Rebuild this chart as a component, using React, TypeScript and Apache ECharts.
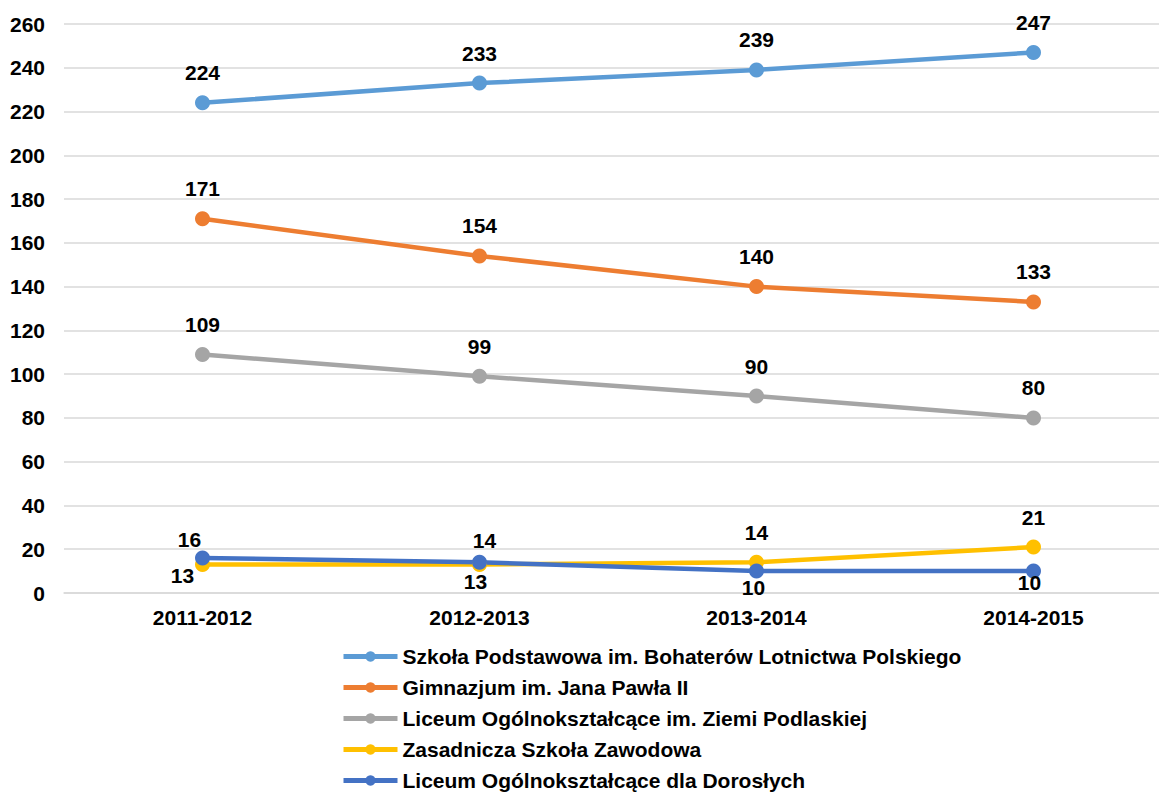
import React, { useEffect, useRef } from "react";
import * as echarts from "echarts";

const categories = ["2011-2012", "2012-2013", "2013-2014", "2014-2015"];
const seriesNames = [
  "Szkoła Podstawowa im. Bohaterów Lotnictwa Polskiego",
  "Gimnazjum im. Jana Pawła II",
  "Liceum Ogólnokształcące im. Ziemi Podlaskiej",
  "Zasadnicza Szkoła Zawodowa",
  "Liceum Ogólnokształcące dla Dorosłych",
];
const szkolaPodstawowa = [224, 233, 239, 247];
const gimnazjum = [171, 154, 140, 133];
const liceumZiemi = [109, 99, 90, 80];
const zasadnicza = [13, 13, 14, 21];
const liceumDorosli = [16, 14, 10, 10];
const yTicks = { min: 0, max: 260, interval: 20 };

const colors = ["#5B9BD5", "#ED7D31", "#A5A5A5", "#FFC000", "#4472C4"];

// label offsets (styling only)
const offsetsAbove = [[0, -30], [0, -30], [0, -30], [0, -30]];
const offsetsZasadnicza = [[-20, 11], [-4, 17], [0, -30], [0, -30]];
const offsetsDorosli = [[-13, -18], [5, -22], [-3, 16], [-4, 11]];

const FONT = "'Liberation Sans', Arial, sans-serif";
const FS = 21;

export default function App() {
  const ref = useRef<HTMLDivElement>(null);
  useEffect(() => {
    if (!ref.current) return;
    const chart = echarts.init(ref.current, undefined, { renderer: "svg" });
    const allData = [szkolaPodstawowa, gimnazjum, liceumZiemi, zasadnicza, liceumDorosli];
    const allOffsets = [offsetsAbove, offsetsAbove, offsetsAbove, offsetsZasadnicza, offsetsDorosli];
    const series = allData.map((d, i) => ({
      name: seriesNames[i],
      type: "line",
      data: d.map((v, j) => ({
        value: v,
        label: { offset: allOffsets[i][j] },
      })),
      symbol: "circle",
      symbolSize: 15,
      lineStyle: { width: 4.5, color: colors[i] },
      itemStyle: { color: colors[i] },
      label: {
        show: true,
        position: "inside",
        color: "#000",
        fontSize: FS,
        fontWeight: "bold",
        fontFamily: FONT,
        textBorderWidth: 0,
      },
      emphasis: { disabled: true },
    }));
    chart.setOption({
      animation: false,
      color: colors,
      grid: { left: 64, top: 24, width: 1108, height: 569 },
      legend: {
        orient: "vertical",
        left: 341,
        top: 646,
        height: 170,
        padding: 0,
        itemWidth: 54,
        itemHeight: 13,
        itemGap: 10,
        lineStyle: { width: 5 },
        textStyle: {
          color: "#000",
          fontSize: FS,
          fontWeight: "bold",
          fontFamily: FONT,
          lineHeight: 20,
        },
        data: seriesNames,
      },
      xAxis: {
        type: "category",
        data: categories,
        axisTick: { show: false },
        axisLine: { lineStyle: { color: "#D9D9D9", width: 1.5 } },
        axisLabel: {
          margin: 14,
          color: "#000",
          fontSize: FS,
          fontWeight: "bold",
          fontFamily: FONT,
        },
      },
      yAxis: {
        type: "value",
        min: yTicks.min,
        max: yTicks.max,
        interval: yTicks.interval,
        axisLine: { show: false },
        axisTick: { show: false },
        splitLine: { lineStyle: { color: "#D9D9D9", width: 1.5 } },
        axisLabel: {
          margin: 19,
          color: "#000",
          fontSize: FS,
          fontWeight: "bold",
          fontFamily: FONT,
        },
      },
      series,
    });
    return () => chart.dispose();
  }, []);
  return (
    <div
      style={{
        position: "fixed",
        left: 0,
        top: 0,
        width: 1159,
        height: 793,
        overflow: "hidden",
        background: "#fff",
      }}
    >
      <div ref={ref} style={{ width: 1200, height: 793 }} />
    </div>
  );
}
